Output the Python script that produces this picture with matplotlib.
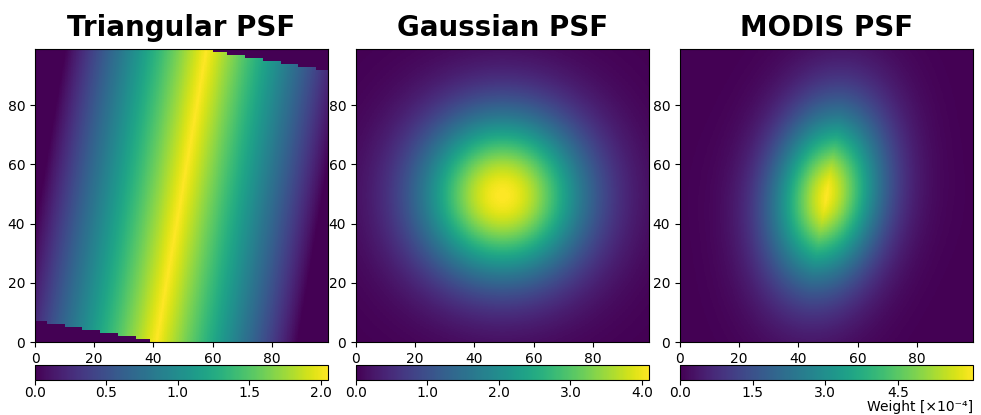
import numpy as np
import matplotlib
matplotlib.use("Agg")
import matplotlib.pyplot as plt

# grid (pixel edges) and PSF parameters
n_pix = 99                    # PSF pixels per side (axis runs 0..99)
upsample = 4                  # drawn finer so the ramps look smooth
center = (49.5, 49.5)
tilt_deg = 9.7                # ridge tilt from vertical

tri_peak = 2.05               # x1e-4
tri_halfwidth = 47.0
tri_halflength = 50.0

gauss_peak = 4.1
gauss_sigma = 19.7

modis_peak = 6.05
modis_core_scale = 10.0       # cusp along scan
modis_core_sigma = 14.0
modis_core_frac = 0.2
modis_sigma_u = 13.5
modis_sigma_v = 22.0

titles = ["Triangular PSF", "Gaussian PSF", "MODIS PSF"]
cbar_ticks = [[0.0, 0.5, 1.0, 1.5, 2.0],
              [0.0, 1.0, 2.0, 3.0, 4.0],
              [0.0, 1.5, 3.0, 4.5]]
axis_ticks = [0, 20, 40, 60, 80]
cbar_label = "Weight [×10⁻⁴]"

edges = np.linspace(0, n_pix, n_pix * upsample + 1)
mid = 0.5 * (edges[:-1] + edges[1:])
X, Y = np.meshgrid(mid, mid)
th = np.deg2rad(tilt_deg)


def rotate(x, y):
    dx, dy = x - center[0], y - center[1]
    return dx * np.cos(th) - dy * np.sin(th), dx * np.sin(th) + dy * np.cos(th)


u, v = rotate(X, Y)
# the footprint cut-off is decided per coarse pixel (stair-step edges)
_, v_coarse = rotate(np.floor(X) + 0.5, np.floor(Y) + 0.5)

tri = tri_peak * np.clip(1 - np.abs(u) / tri_halfwidth, 0, None)
tri[np.abs(v_coarse) > tri_halflength] = 0

gauss = gauss_peak * np.exp(-((X - center[0])**2 + (Y - center[1])**2) / (2 * gauss_sigma**2))

core = np.exp(-np.abs(u) / modis_core_scale) * np.exp(-v**2 / (2 * modis_core_sigma**2))
broad = np.exp(-u**2 / (2 * modis_sigma_u**2) - v**2 / (2 * modis_sigma_v**2))
modis = modis_core_frac * core + (1 - modis_core_frac) * broad
modis = modis_peak * modis / modis.max()

fields = [tri, gauss, modis]

W, H = 981, 415
fig = plt.figure(figsize=(W / 100, H / 100), dpi=100)
lefts = [35, 356, 680]
size = 293

for i, (field, title, ticks) in enumerate(zip(fields, titles, cbar_ticks)):
    ax = fig.add_axes([lefts[i] / W, (H - 342) / H, size / W, size / H])
    pm = ax.pcolormesh(edges, edges, field, cmap="viridis",
                       vmin=0, vmax=field.max(), shading="flat", rasterized=True)
    ax.set_xticks(axis_ticks)
    ax.set_yticks(axis_ticks)
    ax.tick_params(labelsize=10)
    ax.set_title(title, fontsize=20, fontweight="bold", pad=9)

    cax = fig.add_axes([lefts[i] / W, (H - 380) / H, size / W, 15 / H])
    cb = fig.colorbar(pm, cax=cax, orientation="horizontal")
    cb.set_ticks(ticks)
    cb.set_ticklabels([f"{t:.1f}" for t in ticks])
    cb.ax.tick_params(labelsize=10, pad=1)

# colorbar label sits in the bottom-right corner, under the last colorbar
fig.text((lefts[2] + size) / W, 1 / H, cbar_label,
         fontsize=10, ha="right", va="bottom")

fig.savefig("out.png", dpi=100)
